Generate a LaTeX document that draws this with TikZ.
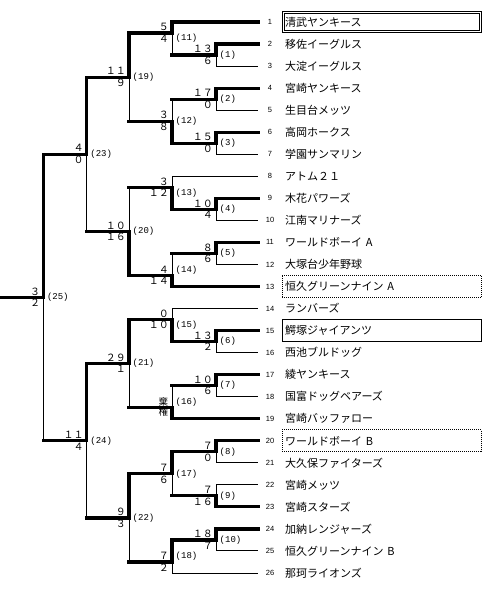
\documentclass[tikz,border=0pt]{standalone}
\usepackage{fontspec}
\newfontfamily\cjk{Noto Sans CJK JP}
\newfontfamily\numfont{Liberation Sans}
\newfontfamily\labfont{Liberation Mono}
\newcommand\matchres[5]{%
  \node[sc,anchor=base east,xshift=-3pt,yshift=2.3pt] (#1t) at (#1) {#2};
  \node[sc,anchor=base east,xshift=-3pt,yshift=-9.3pt] (#1b) at (#1) {#3};
  \node[lab] (#1l) at (#1 |- 0,#5) {(#4)};}
\begin{document}
\begin{tikzpicture}[x=1pt,y=-1pt,
  thk/.style={line width=3.2pt,line cap=rect},
  thn/.style={line width=1pt},
  sc/.style={font=\cjk\fontsize{10}{10}\selectfont,inner sep=0pt},
  lab/.style={font=\labfont\fontsize{9}{9}\selectfont,anchor=west,inner sep=0pt,xshift=3.5pt},
  tnum/.style={font=\numfont\fontsize{7.5}{7.5}\selectfont,inner sep=0pt},
  tname/.style={font=\cjk\fontsize{11}{11}\selectfont,anchor=west,text width=193pt,align=left,inner xsep=3pt,inner ysep=0pt,minimum height=21.5pt},
  boxline/.style={draw,line width=1pt},
  dotbox/.style={draw,line width=0.9pt,dash pattern=on 1pt off 1pt}]
\fill[white] (0,0) rectangle (500,595);
\useasboundingbox (0,0) rectangle (500,595);
% teams
\foreach \i/\nm in {1/清武ヤンキース,2/移佐イーグルス,3/大淀イーグルス,4/宮崎ヤンキース,5/生目台メッツ,6/高岡ホークス,7/学園サンマリン,8/アトム２１,9/木花パワーズ,10/江南マリナーズ,11/ワールドボーイ A,12/大塚台少年野球,13/恒久グリーンナイン A,14/ランバーズ,15/鰐塚ジャイアンツ,16/西池ブルドッグ,17/綾ヤンキース,18/国富ドッグベアーズ,19/宮崎バッファロー,20/ワールドボーイ B,21/大久保ファイターズ,22/宮崎メッツ,23/宮崎スターズ,24/加納レンジャーズ,25/恒久グリーンナイン B,26/那珂ライオンズ}{
  \coordinate (e\i) at (258,{22+22.04*(\i-1)});
  \node[tnum] (n\i) at (270,{22+22.04*(\i-1)}) {\i};
  \node[tname] (t\i) at (282,{22+22.04*(\i-1)}) {\nm};
}
\draw[boxline] (t1.south west) rectangle (t1.north east);
\draw[boxline] ([shift={(2.2,-2.2)}]t1.south west) rectangle ([shift={(-2.2,2.2)}]t1.north east);
\draw[boxline] (t15.south west) rectangle (t15.north east);
\draw[dotbox] (t13.south west) rectangle (t13.north east);
\draw[dotbox] (t20.south west) rectangle (t20.north east);
% match junctions
\coordinate (m1) at (216,55.06);
\coordinate (m2) at (216,99.14);
\coordinate (m3) at (216,143.22);
\coordinate (m4) at (216,209.34);
\coordinate (m5) at (216,253.42);
\coordinate (m6) at (216,341.58);
\coordinate (m7) at (216,385.66);
\coordinate (m8) at (216,451.78);
\coordinate (m9) at (216,495.86);
\coordinate (m10) at (216,539.94);
\coordinate (m11) at (172,33.02);
\coordinate (m12) at (172,121.18);
\coordinate (m13) at (172,187.3);
\coordinate (m14) at (172,275.46);
\coordinate (m15) at (172,319.54);
\coordinate (m16) at (172,407.7);
\coordinate (m17) at (172,473.82);
\coordinate (m18) at (172,561.98);
\coordinate (m19) at (129,77.1);
\coordinate (m20) at (129,231.38);
\coordinate (m21) at (129,363.62);
\coordinate (m22) at (129,517.9);
\coordinate (m23) at (86.7,154.24);
\coordinate (m24) at (86.7,440.76);
\coordinate (m25) at (43.3,297.5);
\coordinate (st) at (0,297.5);
% thin (losers)
\foreach \a/\b in {m1/e3,m2/e5,m3/e7,m4/e10,m5/e12,m6/e16,m7/e18,m8/e21,m9/e22,m10/e25,m13/e8,m15/e14,m18/e26}
  \draw[thn] (\a) |- (\b);
\foreach \a/\b in {m11/m1,m12/m2,m14/m5,m16/m7,m17/m9,m19/m12,m20/m13,m21/m16,m22/m18,m23/m20,m24/m22,m25/m24}
  \draw[thn] (\a) -- (\a |- \b);
% thick (winners)
\foreach \a/\b in {m11/m1,m12/m2,m14/m5,m16/m7,m17/m9,m19/m12,m20/m13,m21/m16,m22/m18,m23/m20,m24/m22,m25/m24}
  \draw[thk] (\a |- \b) -- (\b);
\foreach \a/\b in {m1/e2,m2/e4,m3/e6,m4/e9,m5/e11,m6/e15,m7/e17,m8/e20,m9/e23,m10/e24,m11/e1,m12/m3,m13/m4,m14/e13,m15/m6,m16/e19,m17/m8,m18/m10,m19/m11,m20/m14,m21/m15,m22/m17,m23/m19,m24/m21,m25/m23}
  \draw[thk] (\a) |- (\b);
\draw[thk] (st) -- (m25);
% scores
\matchres{m1}{１３}{６}{1}{55.06}
\matchres{m2}{１７}{０}{2}{99.14}
\matchres{m3}{１５}{０}{3}{143.22}
\matchres{m4}{１０}{４}{4}{209.34}
\matchres{m5}{８}{６}{5}{253.42}
\matchres{m6}{１３}{２}{6}{341.58}
\matchres{m7}{１０}{６}{7}{385.66}
\matchres{m8}{７}{０}{8}{451.78}
\matchres{m9}{７}{１６}{9}{495.86}
\matchres{m10}{１８}{７}{10}{539.94}
\matchres{m11}{５}{４}{11}{38.53}
\matchres{m12}{３}{８}{12}{121.18}
\matchres{m13}{３}{１２}{13}{192.81}
\matchres{m14}{４}{１４}{14}{269.95}
\matchres{m15}{０}{１０}{15}{325.05}
\node[font=\cjk\fontsize{9.5}{10}\selectfont,align=center,inner sep=0pt,xshift=-8.7pt,yshift=1pt] (m16k) at (m16) {棄\\権};
\node[lab] (m16l) at (m16 |- 0,402.19) {(16)};
\matchres{m17}{７}{６}{17}{473.82}
\matchres{m18}{７}{２}{18}{556.47}
\matchres{m19}{１１}{９}{19}{77.1}
\matchres{m20}{１０}{１６}{20}{231.38}
\matchres{m21}{２９}{１}{21}{363.62}
\matchres{m22}{９}{３}{22}{517.9}
\matchres{m23}{４}{０}{23}{154.24}
\matchres{m24}{１１}{４}{24}{440.76}
\matchres{m25}{３}{２}{25}{297.5}
\end{tikzpicture}
\end{document}
